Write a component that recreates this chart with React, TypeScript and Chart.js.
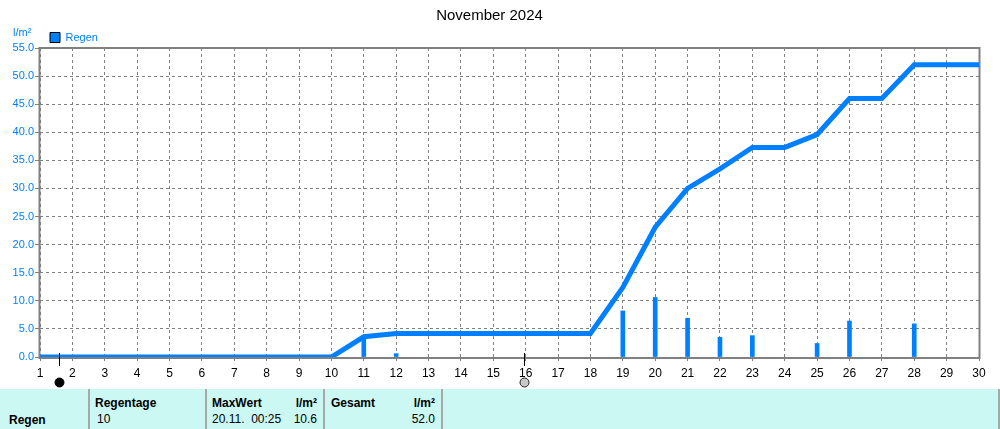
import React, { useEffect, useRef } from "react";
import { Chart, registerables } from "chart.js";

Chart.register(...registerables);

const TITLE = "November 2024";
const UNIT = "l/m²";
const SERIES_NAME = "Regen";

// cumulative rain (line) per day 1..30
const days = [1, 2, 3, 4, 5, 6, 7, 8, 9, 10, 11, 12, 13, 14, 15, 16, 17, 18, 19, 20, 21, 22, 23, 24, 25, 26, 27, 28, 29, 30];
const cumulative = [0, 0, 0, 0, 0, 0, 0, 0, 0, 0, 3.6, 4.2, 4.2, 4.2, 4.2, 4.2, 4.2, 4.2, 12.4, 23.1, 30.0, 33.5, 37.3, 37.3, 39.6, 46.0, 46.0, 52.0, 52.0, 52.0];

// daily rain bars
const rainDays = [11, 12, 19, 20, 21, 22, 23, 25, 26, 28];
const rainValues = [3.6, 0.6, 8.2, 10.6, 6.9, 3.5, 3.8, 2.4, 6.4, 5.9];

// moon phase markers
const moonDays = [1.6, 15.95];
const moonPhases = ["new", "full"];

// summary table
const sumRegentage = "10";
const sumMaxTime = "20.11.  00:25";
const sumMaxValue = "10.6";
const sumTotal = "52.0";

const BLUE = "#0080ff";
const GRAY = "#808080";
const FONT = "'Liberation Sans', Arial, sans-serif";

const framePlugin = {
  id: "frameAndMoon",
  beforeDatasetsDraw(chart: any) {
    const { ctx, chartArea } = chart;
    ctx.save();
    ctx.strokeStyle = GRAY;
    ctx.lineWidth = 2;
    ctx.strokeRect(chartArea.left - 0.5, chartArea.top, chartArea.right - chartArea.left + 1, chartArea.bottom - chartArea.top + 1);
    ctx.restore();
  },
  afterDraw(chart: any) {
    const { ctx, chartArea, scales } = chart;
    const xs = scales.x;
    ctx.save();
    moonDays.forEach((d, i) => {
      const x = Math.round(xs.getPixelForValue(d)) + 0.5;
      ctx.strokeStyle = "#000";
      ctx.lineWidth = 1;
      ctx.beginPath();
      ctx.moveTo(x, chartArea.bottom - 4);
      ctx.lineTo(x, chartArea.bottom + 9);
      ctx.stroke();
      ctx.beginPath();
      ctx.arc(x, 382.5, 4.5, 0, Math.PI * 2);
      if (moonPhases[i] === "new") {
        ctx.fillStyle = "#000";
        ctx.fill();
        ctx.strokeStyle = "#000";
      } else {
        ctx.fillStyle = "#c8c8c8";
        ctx.fill();
        ctx.strokeStyle = "#202020";
      }
      ctx.stroke();
    });
    ctx.restore();
  },
};

export default function App() {
  const ref = useRef<HTMLCanvasElement | null>(null);

  useEffect(() => {
    if (!ref.current) return;
    const chart = new Chart(ref.current, {
      type: "bar",
      data: {
        datasets: [
          {
            type: "line",
            label: "Summe",
            data: days.map((d, i) => ({ x: d, y: cumulative[i] })),
            borderColor: BLUE,
            backgroundColor: BLUE,
            borderWidth: 5,
            pointRadius: 0,
            tension: 0,
            order: 2,
          } as any,
          {
            type: "bar",
            label: SERIES_NAME,
            data: rainDays.map((d, i) => ({ x: d, y: rainValues[i] })),
            backgroundColor: BLUE,
            borderWidth: 0,
            barThickness: 4,
            order: 1,
          } as any,
        ],
      },
      options: {
        responsive: false,
        animation: false,
        events: [],
        layout: { padding: { left: 0, right: 21, top: 0, bottom: 0 } },
        plugins: {
          tooltip: { enabled: false },
          title: {
            display: true,
            text: TITLE,
            color: "#000",
            font: { family: FONT, size: 15, weight: "normal" },
            padding: { top: 7, bottom: -3 },
          },
          legend: {
            display: true,
            position: "top",
            align: "start",
            fullSize: false,
            maxHeight: 26,
            labels: {
              boxWidth: 10,
              boxHeight: 10,
              padding: 10,
              color: BLUE,
              font: { family: FONT, size: 11 },
              generateLabels: () => [
                {
                  text: SERIES_NAME,
                  fillStyle: BLUE,
                  strokeStyle: "#000",
                  lineWidth: 1,
                  datasetIndex: 1,
                  fontColor: BLUE,
                },
              ],
            },
          },
        },
        scales: {
          x: {
            type: "linear",
            min: 1,
            max: 30,
            offset: false,
            afterFit: (s: any) => { s.height = 32; },
            ticks: {
              stepSize: 1,
              color: "#000",
              font: { family: FONT, size: 12 },
              padding: 5,
              maxRotation: 0,
              autoSkip: false,
            },
            grid: {
              offset: false,
              color: GRAY,
              lineWidth: 1,
              tickLength: 4,
              tickColor: GRAY,
            },
            border: { display: false, dash: [3, 3] },
          },
          y: {
            min: 0,
            max: 55,
            afterFit: (s: any) => { s.width = 40; },
            ticks: {
              stepSize: 5,
              color: BLUE,
              font: { family: FONT, size: 11 },
              padding: 1,
              callback: (v: any) => Number(v).toFixed(1),
            },
            grid: {
              color: GRAY,
              lineWidth: 1,
              tickLength: 5,
              tickColor: GRAY,
            },
            border: { display: false, dash: [3, 3] },
          },
        },
      } as any,
      plugins: [framePlugin],
    });
    return () => chart.destroy();
  }, []);

  const cell: React.CSSProperties = { position: "absolute", fontFamily: FONT, fontSize: 12, lineHeight: "14px", color: "#000", whiteSpace: "pre" };
  const sep = (x: number) => (
    <div key={x} style={{ position: "absolute", left: x, top: 0, width: 2, height: 40, background: "#a8a8a8" }} />
  );

  return (
    <div style={{ position: "absolute", left: 0, top: 0, width: 1000, height: 429, background: "#fff", overflow: "hidden" }}>
      <canvas ref={ref} width={1000} height={389} style={{ display: "block", width: 1000, height: 389 }} />
      <div style={{ position: "absolute", left: 13, top: 25, fontFamily: FONT, fontSize: 11, lineHeight: "14px", color: BLUE }}>{UNIT}</div>
      <div style={{ position: "absolute", left: 0, top: 389, width: 1000, height: 40, background: "#ccf8f4" }}>
        {[88, 205, 323, 441, 998].map(sep)}
        <div style={{ ...cell, left: 9, top: 24, fontWeight: "bold" }}>{SERIES_NAME}</div>
        <div style={{ ...cell, left: 95, top: 7, fontWeight: "bold" }}>Regentage</div>
        <div style={{ ...cell, left: 97, top: 23 }}>{sumRegentage}</div>
        <div style={{ ...cell, left: 212, top: 7, fontWeight: "bold" }}>MaxWert</div>
        <div style={{ ...cell, left: 260, width: 57, textAlign: "right", top: 7, fontWeight: "bold" }}>{UNIT}</div>
        <div style={{ ...cell, left: 212, top: 23 }}>{sumMaxTime}</div>
        <div style={{ ...cell, left: 260, width: 57, textAlign: "right", top: 23 }}>{sumMaxValue}</div>
        <div style={{ ...cell, left: 331, top: 7, fontWeight: "bold" }}>Gesamt</div>
        <div style={{ ...cell, left: 380, width: 55, textAlign: "right", top: 7, fontWeight: "bold" }}>{UNIT}</div>
        <div style={{ ...cell, left: 380, width: 55, textAlign: "right", top: 23 }}>{sumTotal}</div>
      </div>
    </div>
  );
}
